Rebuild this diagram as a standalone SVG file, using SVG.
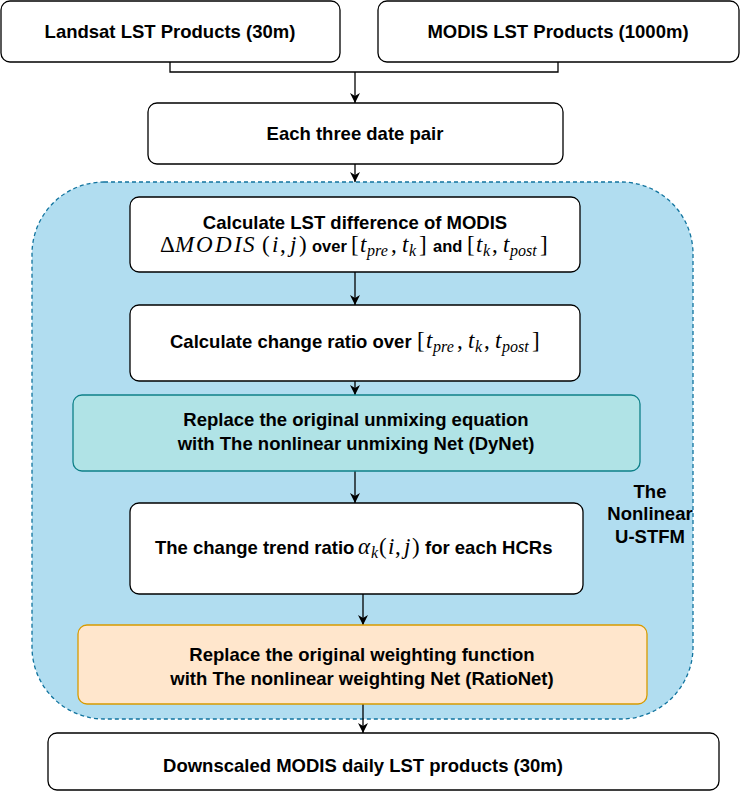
<svg xmlns="http://www.w3.org/2000/svg" width="740" height="800" viewBox="0 0 740 800">
<style>
.box{fill:#ffffff;stroke:#000000;stroke-width:1.3}
.t{font-family:"Liberation Sans",Arial,Helvetica,sans-serif;font-weight:bold;font-size:18.5px;fill:#000000;text-anchor:middle}
.ts{font-family:"Liberation Sans",Arial,Helvetica,sans-serif;font-weight:bold;font-size:18.5px;fill:#000000;text-anchor:start}
.w{font-size:16.5px}
.m{font-family:"Liberation Serif","Times New Roman",serif;font-weight:normal;font-style:normal;font-size:23px}
.mi{font-family:"Liberation Serif","Times New Roman",serif;font-weight:normal;font-style:italic;font-size:23px}
.s{font-family:"Liberation Serif","Times New Roman",serif;font-weight:normal;font-style:italic;font-size:16px}
.edge{fill:none;stroke:#000000;stroke-width:1.3}
</style>
<defs>
<marker id="arr" viewBox="0 0 10 10" refX="10" refY="5" markerWidth="10" markerHeight="10" markerUnits="userSpaceOnUse" orient="auto">
<path d="M0,0 L10,5 L0,10 L3,5 Z" fill="#000000"/>
</marker>
</defs>

<g id="container">
<rect x="32" y="182" width="661" height="537" rx="72" ry="72" fill="#b1ddf0" stroke="#10739e" stroke-width="1.3" stroke-dasharray="4 3"/>
<text class="t"><tspan x="650" y="498">The</tspan><tspan x="650" y="520">Nonlinear</tspan><tspan x="650" y="543">U-STFM</tspan></text>
</g>

<g id="connectors">
<path class="edge" d="M170,62 V72 H558 V62"/>
<path class="edge" d="M355,72 V103" marker-end="url(#arr)"/>
<path class="edge" d="M355,164 V182" marker-end="url(#arr)"/>
<path class="edge" d="M355,272 V305" marker-end="url(#arr)"/>
<path class="edge" d="M355,381 V395" marker-end="url(#arr)"/>
<path class="edge" d="M355,471 V503" marker-end="url(#arr)"/>
<path class="edge" d="M363,594 V625" marker-end="url(#arr)"/>
<path class="edge" d="M363,704 V733" marker-end="url(#arr)"/>
</g>

<g id="landsat">
<rect class="box" x="1" y="1" width="339" height="61" rx="9"/>
<text class="t" x="170" y="38">Landsat LST Products (30m)</text>
</g>

<g id="modis">
<rect class="box" x="378" y="1" width="361" height="61" rx="9"/>
<text class="t" x="558" y="38">MODIS LST Products (1000m)</text>
</g>

<g id="pair">
<rect class="box" x="148" y="103" width="415" height="61" rx="9"/>
<text class="t" x="355" y="140">Each three date pair</text>
</g>

<g id="diff">
<rect class="box" x="130" y="197" width="450" height="75" rx="9"/>
<text class="t" x="355" y="229">Calculate LST difference of MODIS</text>
<text class="ts" y="252"><tspan class="m" x="160">Δ</tspan><tspan class="mi" x="175 196 215 234 243">MODIS</tspan><tspan class="m" x="262">(</tspan><tspan class="mi" x="272">i</tspan><tspan class="m" x="280">,</tspan><tspan class="mi" x="290">j</tspan><tspan class="m" x="299">)</tspan><tspan class="w" x="312">over</tspan><tspan class="m" x="351">[</tspan><tspan class="mi" x="360">t</tspan><tspan class="s" x="367" dy="4">pre</tspan><tspan class="m" x="391" dy="-4">,</tspan><tspan class="mi" x="402">t</tspan><tspan class="s" x="409" dy="4">k</tspan><tspan class="m" x="419" dy="-4">]</tspan><tspan class="w" x="433">and</tspan><tspan class="m" x="467">[</tspan><tspan class="mi" x="476">t</tspan><tspan class="s" x="483" dy="4">k</tspan><tspan class="m" x="492" dy="-4">,</tspan><tspan class="mi" x="503">t</tspan><tspan class="s" x="510" dy="4">post</tspan><tspan class="m" x="540" dy="-4">]</tspan></text>
</g>

<g id="ratio">
<rect class="box" x="130" y="305" width="450" height="76" rx="9"/>
<text class="ts" y="348"><tspan x="170">Calculate change ratio over</tspan><tspan class="m" x="417">[</tspan><tspan class="mi" x="426">t</tspan><tspan class="s" x="433" dy="4">pre</tspan><tspan class="m" x="457" dy="-4">,</tspan><tspan class="mi" x="468">t</tspan><tspan class="s" x="475" dy="4">k</tspan><tspan class="m" x="484" dy="-4">,</tspan><tspan class="mi" x="495">t</tspan><tspan class="s" x="502" dy="4">post</tspan><tspan class="m" x="532" dy="-4">]</tspan></text>
</g>

<g id="dynet">
<rect x="73" y="395" width="567" height="76" rx="9" fill="#b0e3e6" stroke="#0e8088" stroke-width="1.3"/>
<text class="t"><tspan x="356" y="426">Replace the original unmixing equation</tspan><tspan x="356" y="450">with The nonlinear unmixing Net (DyNet)</tspan></text>
</g>

<g id="trend">
<rect class="box" x="130" y="503" width="453" height="91" rx="9"/>
<text class="ts" y="554"><tspan x="155">The change trend ratio</tspan><tspan class="mi" x="358">α</tspan><tspan class="s" x="371" dy="4">k</tspan><tspan class="m" x="379" dy="-4">(</tspan><tspan class="mi" x="388">i</tspan><tspan class="m" x="395">,</tspan><tspan class="mi" x="404">j</tspan><tspan class="m" x="412">)</tspan><tspan x="425">for each HCRs</tspan></text>
</g>

<g id="rationet">
<rect x="78" y="625" width="569" height="79" rx="9" fill="#ffe6cc" stroke="#d79b00" stroke-width="1.3"/>
<text class="t"><tspan x="362" y="661">Replace the original weighting function</tspan><tspan x="362" y="685">with The nonlinear weighting Net (RatioNet)</tspan></text>
</g>

<g id="output">
<rect class="box" x="48" y="733" width="671" height="57" rx="9"/>
<text class="t" x="363" y="772">Downscaled MODIS daily LST products (30m)</text>
</g>
</svg>
